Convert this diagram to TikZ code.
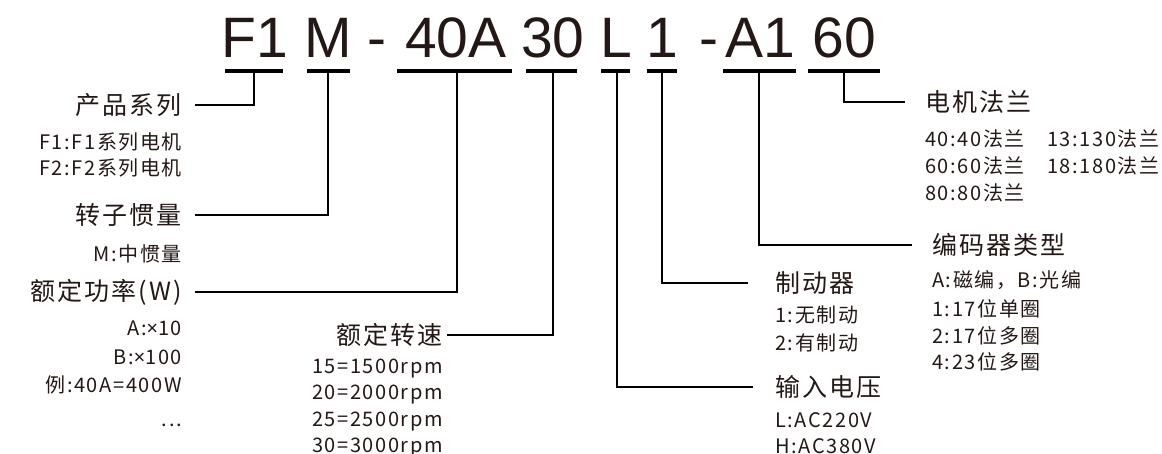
\documentclass[tikz,border=0pt]{standalone}
\usepackage{fontspec}
\setmainfont{Liberation Sans}
\newfontfamily\cnfont[LetterSpace=8]{Noto Sans CJK SC}
\newfontfamily\mulfont{Noto Sans}
\newcommand{\mulx}{{\mulfont ×}}
\definecolor{ink}{HTML}{231815}
\begin{document}
\begin{tikzpicture}[x=1pt,y=-1pt,
  code/.style={font=\fontsize{57}{60}\selectfont, text=ink, inner sep=0pt, anchor=base},
  head/.style={font=\cnfont\fontsize{25}{30}\selectfont, text=ink, inner sep=0pt},
  sub/.style={font=\cnfont\fontsize{20}{26}\selectfont, text=ink, inner sep=0pt},
  ul/.style={line width=3.3pt, draw=black},
  conn/.style={line width=1.7pt, draw=black}]
\useasboundingbox (0,0) rectangle (1162,454);

% --- model code ---
\node[code] (cF1) at (255,58) {F1};
\node[code] (cM)  at (328.5,58) {M};
\node[code] (cd1) at (377,58) {-};
\node[code] (c40) at (456,58) {40A};
\node[code] (c30) at (553,58) {30};
\node[code] (cL)  at (616,58) {L};
\node[code] (c1)  at (662,58) {1};
\node[code] (cd2) at (709,58) {-};
\node[code] (cA1) at (760,58) {A1};
\node[code] (c60) at (844,58) {60};

% underlines
\draw[ul] (225,71) -- (283,71);
\draw[ul] (307,71) -- (350,71);
\draw[ul] (397,71) -- (512,71);
\draw[ul] (526,71) -- (577,71);
\draw[ul] (601,71) -- (630,71);
\draw[ul] (647,71) -- (677,71);
\draw[ul] (723,71) -- (796,71);
\draw[ul] (808,71) -- (880,71);

\coordinate (tF1) at (254,71);
\coordinate (tM)  at (328,71);
\coordinate (t40) at (457,71);
\coordinate (t30) at (553,71);
\coordinate (tL)  at (617,71);
\coordinate (t1)  at (662,71);
\coordinate (tA1) at (759,71);
\coordinate (t60) at (844,71);

% --- left column ---
\node[head, anchor=east] (hF) at (182,105) {产品系列};
\node[sub, anchor=base east] (sF1) at (182,150) {F1:F1系列电机};
\node[sub, anchor=base east] (sF2) at (182,176) {F2:F2系列电机};

\node[head, anchor=east] (hI) at (182,215) {转子惯量};
\node[sub, anchor=base east] (sI1) at (182,262) {M:中惯量};

\node[head, anchor=east] (hP) at (182,292) {额定功率(W)};
\node[sub, anchor=base east] (sP1) at (182,336) {A:\mulx10};
\node[sub, anchor=base east] (sP2) at (182,364) {B:\mulx100};
\node[sub, anchor=base east] (sP3) at (182,392) {例:40A=400W};
\node[sub, anchor=base east] (sP4) at (182,426) {...};

% --- speed ---
\node[head, anchor=east] (hS) at (443,335) {额定转速};
\node[sub, anchor=base east] (sS1) at (443,373) {15=1500rpm};
\node[sub, anchor=base east] (sS2) at (443,399.5) {20=2000rpm};
\node[sub, anchor=base east] (sS3) at (443,426) {25=2500rpm};
\node[sub, anchor=base east] (sS4) at (443,452.5) {30=3000rpm};

% --- brake ---
\node[head, anchor=west] (hB) at (775,283) {制动器};
\node[sub, anchor=base west] (sB1) at (775,323) {1:无制动};
\node[sub, anchor=base west] (sB2) at (775,350) {2:有制动};

% --- voltage ---
\node[head, anchor=west] (hV) at (775,387) {输入电压};
\node[sub, anchor=base west] (sV1) at (775,427) {L:AC220V};
\node[sub, anchor=base west] (sV2) at (775,453) {H:AC380V};

% --- flange ---
\node[head, anchor=west] (hM) at (925,102) {电机法兰};
\node[sub, anchor=base west] (sM1) at (925,147) {40:40法兰};
\node[sub, anchor=base west] (sM2) at (925,174) {60:60法兰};
\node[sub, anchor=base west] (sM3) at (925,201) {80:80法兰};
\node[sub, anchor=base west] (sM4) at (1047,147) {13:130法兰};
\node[sub, anchor=base west] (sM5) at (1047,174) {18:180法兰};

% --- encoder ---
\node[head, anchor=west] (hE) at (932,245) {编码器类型};
\node[sub, anchor=base west] (sE1) at (932,288) {A:磁编，B:光编};
\node[sub, anchor=base west] (sE2) at (932,317) {1:17位单圈};
\node[sub, anchor=base west] (sE3) at (932,343) {2:17位多圈};
\node[sub, anchor=base west] (sE4) at (932,369) {4:23位多圈};

% --- connectors ---
\draw[conn] (tF1) |- ([xshift=13pt]hF.east);
\draw[conn] (tM)  |- ([xshift=13pt]hI.east);
\draw[conn] (t40) |- ([xshift=13pt]hP.east);
\draw[conn] (t30) |- ([xshift=4pt]hS.east);
\draw[conn] (tL)  |- ([xshift=-22pt]hV.west);
\draw[conn] (t1)  |- ([xshift=-27pt]hB.west);
\draw[conn] (tA1) |- ([xshift=-20pt]hE.west);
\draw[conn] (t60) |- ([xshift=-20pt]hM.west);
\end{tikzpicture}
\end{document}
